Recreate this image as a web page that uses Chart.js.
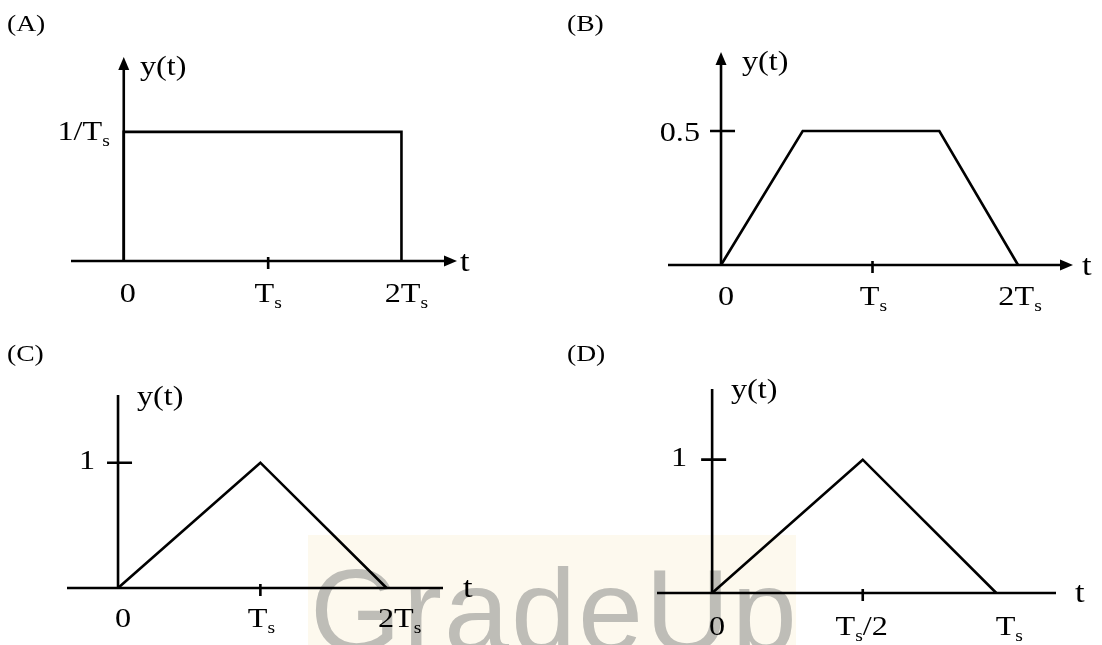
<!DOCTYPE html>
<html>
<head>
<meta charset="utf-8">
<script src="https://cdn.jsdelivr.net/npm/chart.js@4.4.1/dist/chart.umd.min.js"></script>
<style>
  html, body { margin: 0; padding: 0; background: #fff; }
  #wrap { position: relative; width: 1102px; height: 645px; overflow: hidden; }
  #wrap canvas { position: absolute; left: 0; top: 0; }
</style>
</head>
<body>
<div id="wrap">
  <canvas id="cA" width="1102" height="645"></canvas>
  <canvas id="cB" width="1102" height="645"></canvas>
  <canvas id="cC" width="1102" height="645"></canvas>
  <canvas id="cD" width="1102" height="645"></canvas>
</div>
<script>
const W = 1102, H = 645;
const SERIF = '"Liberation Serif", "Times New Roman", serif';
const TEXT_SX = 1.15; // the source lettering is a bit wide

// --- data ---
const panelTitles = ['(A)', '(B)', '(C)', '(D)'];
const tA = [0, 0, 2, 2];         const yA = [0, 1, 1, 0];
const tB = [0, 0.55, 1.47, 2];   const yB = [0, 0.5, 0.5, 0];
const tC = [0, 1.06, 2];         const yC = [0, 1, 0];
const tD = [0, 0.53, 1];         const yD = [0, 1, 0];

const xTicksA = [0, 1.04, 2];    const xTickLabelsA = ['0', 'T_s', '2T_s'];
const xTicksB = [0, 1.02, 2];    const xTickLabelsB = ['0', 'T_s', '2T_s'];
const xTicksC = [0, 1.06, 2];    const xTickLabelsC = ['0', 'T_s', '2T_s'];
const xTicksD = [0, 0.53, 1];    const xTickLabelsD = ['0', 'T_s/2', 'T_s'];

const yTickA = 1;    const yTickLabelA = '1/T_s';
const yTickB = 0.5;  const yTickLabelB = '0.5';
const yTickC = 1;    const yTickLabelC = '1';
const yTickD = 1;    const yTickLabelD = '1';

// axis ranges (the drawn axis lines run over these)
const xRanges = [[-0.38, 2.40], [-0.357, 2.37], [-0.38, 2.42], [-0.194, 1.21]];
const yMaxes = [1.58, 0.795, 1.54, 1.53];

// --- layout: axis box in page pixels [left, right, top, bottom] and text placement ---
const layouts = [
  { box: [71, 457, 57, 261],   arrows: true,  title: [7, 31],    yLab: [140, 75],  tLab: [460, 271],  xLabDx: [4, 0, 5],   xLabDy: 41, yLabGap: 14, yLabDy: 8,  yTickMark: false },
  { box: [668, 1073, 52, 265], arrows: true,  title: [567, 31],  yLab: [742, 70],  tLab: [1082, 275], xLabDx: [5, 1, 2],   xLabDy: 40, yLabGap: 21, yLabDy: 10, yTickMark: true },
  { box: [67, 443, 395, 588],  arrows: false, title: [7, 361],   yLab: [137, 405], tLab: [463, 597],  xLabDx: [5, 1, 13],  xLabDy: 39, yLabGap: 23, yLabDy: 6,  yTickMark: true },
  { box: [657, 1056, 389, 593],arrows: false, title: [567, 361], yLab: [731, 398], tLab: [1075, 602], xLabDx: [5, -1, 13], xLabDy: 42, yLabGap: 25, yLabDy: 6,  yTickMark: true }
];

const panels = [
  { id: 'cA', t: tA, y: yA, xt: xTicksA, xl: xTickLabelsA, yt: yTickA, yl: yTickLabelA },
  { id: 'cB', t: tB, y: yB, xt: xTicksB, xl: xTickLabelsB, yt: yTickB, yl: yTickLabelB },
  { id: 'cC', t: tC, y: yC, xt: xTicksC, xl: xTickLabelsC, yt: yTickC, yl: yTickLabelC },
  { id: 'cD', t: tD, y: yD, xt: xTicksD, xl: xTickLabelsD, yt: yTickD, yl: yTickLabelD }
];

// text with "_x" subscripts, e.g. "2T_s"
function drawRich(ctx, str, x, y, size, align) {
  const parts = [];
  for (let i = 0; i < str.length; i++) {
    if (str[i] === '_') { parts.push([str[i + 1], true]); i++; }
    else if (parts.length && !parts[parts.length - 1][1]) parts[parts.length - 1][0] += str[i];
    else parts.push([str[i], false]);
  }
  const sub = Math.round(size * 0.62);
  let total = 0;
  parts.forEach(p => {
    ctx.font = (p[1] ? sub : size) + 'px ' + SERIF;
    p.push(ctx.measureText(p[0]).width * TEXT_SX);
    total += p[2];
  });
  let cx = align === 'center' ? x - total / 2 : align === 'right' ? x - total : x;
  ctx.textAlign = 'left';
  ctx.textBaseline = 'alphabetic';
  parts.forEach(p => {
    ctx.font = (p[1] ? sub : size) + 'px ' + SERIF;
    ctx.save();
    ctx.translate(cx, p[1] ? y + size * 0.21 : y);
    ctx.scale(TEXT_SX, 1);
    ctx.fillText(p[0], 0, 0);
    ctx.restore();
    cx += p[2];
  });
}

function arrowHead(ctx, x, y, dir) {
  const L = 13, hw = 5.5;
  ctx.beginPath();
  if (dir === 'right') { ctx.moveTo(x, y); ctx.lineTo(x - L, y - hw); ctx.lineTo(x - L, y + hw); }
  else { ctx.moveTo(x, y); ctx.lineTo(x - hw, y + L); ctx.lineTo(x + hw, y + L); }
  ctx.closePath();
  ctx.fill();
}

function makeDiagram(p, lay, title) {
  return {
    id: 'diagram',
    beforeDatasetsDraw(chart) {
      const ctx = chart.ctx, xs = chart.scales.x, ys = chart.scales.y;
      const x0 = xs.getPixelForValue(0), y0 = ys.getPixelForValue(0);
      ctx.save();
      ctx.strokeStyle = '#000';
      ctx.fillStyle = '#000';
      ctx.lineWidth = 2.6;
      ctx.lineCap = 'butt';
      ctx.beginPath();
      ctx.moveTo(xs.left, y0);
      ctx.lineTo(xs.right - (lay.arrows ? 8 : 0), y0);
      ctx.moveTo(x0, y0);
      ctx.lineTo(x0, ys.top + (lay.arrows ? 8 : 0));
      // middle tick on the t axis
      const mx = xs.getPixelForValue(p.xt[1]);
      ctx.moveTo(mx, y0 - 4);
      ctx.lineTo(mx, y0 + 8);
      if (lay.yTickMark) {
        const py = ys.getPixelForValue(p.yt);
        ctx.moveTo(x0 - 11, py);
        ctx.lineTo(x0 + 14, py);
      }
      ctx.stroke();
      if (lay.arrows) {
        arrowHead(ctx, xs.right, y0, 'right');
        arrowHead(ctx, x0, ys.top, 'up');
      }
      ctx.restore();
    },
    afterDatasetsDraw(chart) {
      const ctx = chart.ctx, xs = chart.scales.x, ys = chart.scales.y;
      const x0 = xs.getPixelForValue(0), y0 = ys.getPixelForValue(0);
      ctx.save();
      ctx.fillStyle = '#000';
      drawRich(ctx, title, lay.title[0], lay.title[1], 24, 'left');
      drawRich(ctx, 'y(t)', lay.yLab[0], lay.yLab[1], 28, 'left');
      drawRich(ctx, 't', lay.tLab[0], lay.tLab[1], 30, 'left');
      p.xt.forEach((v, i) => {
        drawRich(ctx, p.xl[i], xs.getPixelForValue(v) + lay.xLabDx[i], y0 + lay.xLabDy, 28, 'center');
      });
      drawRich(ctx, p.yl, x0 - lay.yLabGap, ys.getPixelForValue(p.yt) + lay.yLabDy, 28, 'right');
      ctx.restore();
    }
  };
}

// light watermark band behind the lower panels
const watermark = {
  id: 'watermark',
  beforeDraw(chart) {
    const ctx = chart.ctx;
    ctx.save();
    ctx.fillStyle = '#fdf9ee';
    ctx.fillRect(308, 535, 488, 110);
    ctx.beginPath();
    ctx.rect(308, 535, 488, 110);
    ctx.clip();
    ctx.font = '117px "Liberation Sans", Arial, sans-serif';
    ctx.letterSpacing = '2px';
    ctx.fillStyle = '#bebdb7';
    ctx.textBaseline = 'alphabetic';
    ctx.fillText('GradeUp', 310, 651);
    ctx.restore();
  }
};

panels.forEach((p, i) => {
  const lay = layouts[i];
  const [l, r, top, bottom] = lay.box;
  const plugins = [makeDiagram(p, lay, panelTitles[i])];
  if (i === 0) plugins.unshift(watermark);
  new Chart(document.getElementById(p.id), {
    type: 'line',
    data: {
      datasets: [{
        data: p.t.map((t, k) => ({ x: t, y: p.y[k] })),
        borderColor: '#000',
        borderWidth: 2.6,
        borderJoinStyle: 'miter',
        pointRadius: 0,
        tension: 0,
        fill: false,
        clip: false
      }]
    },
    options: {
      responsive: false,
      animation: false,
      events: [],
      layout: { padding: { left: l, right: W - r, top: top, bottom: H - bottom } },
      plugins: { legend: { display: false }, tooltip: { enabled: false } },
      scales: {
        x: { type: 'linear', min: xRanges[i][0], max: xRanges[i][1], display: false },
        y: { type: 'linear', min: 0, max: yMaxes[i], display: false }
      }
    },
    plugins: plugins
  });
});
</script>
</body>
</html>
